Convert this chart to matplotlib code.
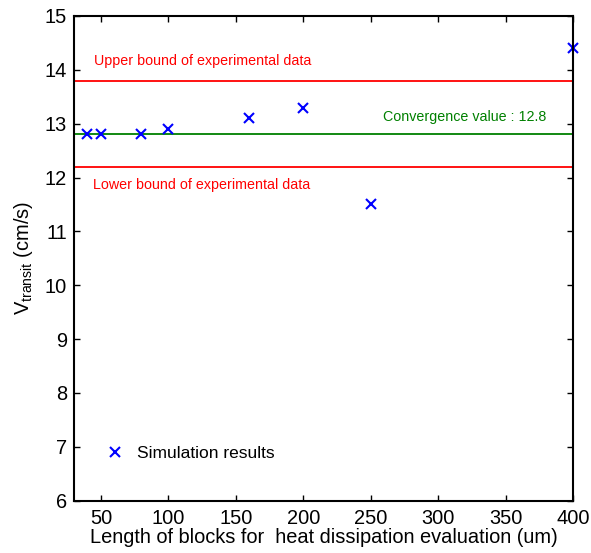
import matplotlib
matplotlib.use("Agg")
import matplotlib.pyplot as plt

# -------------------------------
# Data
# -------------------------------
block_len = [40, 50, 80, 100, 160, 200, 250, 400]
v_transit = [12.8, 12.8, 12.8, 12.9, 13.1, 13.3, 11.5, 14.4]

upper_bound = 13.8
lower_bound = 12.2
convergence = 12.8

x_ticks = [50, 100, 150, 200, 250, 300, 350, 400]
y_ticks = [6, 7, 8, 9, 10, 11, 12, 13, 14, 15]

plt.rcParams['font.family'] = ['Liberation Sans', 'DejaVu Sans']

fig = plt.figure(figsize=(5.91, 5.53), dpi=100)
ax = fig.add_axes([0.1252, 0.0946, 0.8443, 0.8765])

ax.axhline(upper_bound, color='#ff0000', lw=1.3)
ax.axhline(lower_bound, color='#ff0000', lw=1.3)
ax.axhline(convergence, color='#008000', lw=1.3)

ax.plot(block_len, v_transit, 'x', color='#0000ff', ms=7, mew=1.5,
        label='Simulation results', clip_on=False)

ax.text(44.8, 14.17, 'Upper bound of experimental data', color='#ff0000',
        fontsize=10.3, va='center', ha='left')
ax.text(44.0, 11.86, 'Lower bound of experimental data', color='#ff0000',
        fontsize=10.3, va='center', ha='left')
ax.text(259.3, 13.13, 'Convergence value : 12.8', color='#008000',
        fontsize=10.3, va='center', ha='left')

ax.set_xlim(30, 400)
ax.set_ylim(6, 15)
ax.set_xticks(x_ticks)
ax.set_yticks(y_ticks)
ax.tick_params(direction='in', length=4, width=1, top=True, right=True,
               labelsize=14.4)
ax.tick_params(axis='x', pad=6)
ax.tick_params(axis='y', pad=5)
for s in ax.spines.values():
    s.set_linewidth(1.5)

ax.set_xlabel('Length of blocks for  heat dissipation evaluation (um)', fontsize=14.4, labelpad=0)
ax.set_ylabel(r'V$_{\mathregular{transit}}$ (cm/s)', fontsize=14.4, labelpad=7)

ax.legend(loc='lower left', bbox_to_anchor=(0.033, 0.068), frameon=False,
          fontsize=12.5, handletextpad=0.3, borderaxespad=0)

fig.savefig('out.png', dpi=100)
